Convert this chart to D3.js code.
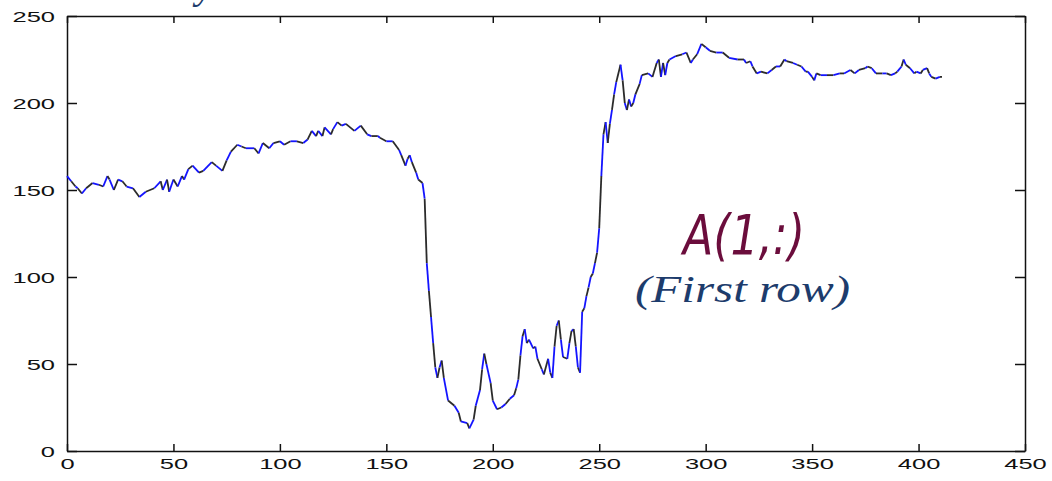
<!DOCTYPE html>
<html>
<head>
<meta charset="utf-8">
<script src="https://cdn.jsdelivr.net/npm/d3@7"></script>
<style>
  html, body { margin: 0; padding: 0; background: #fff; overflow: hidden; }
</style>
</head>
<body>
<script>
// column index of each sample (first row of A)
const sampleIndex = [
  0, 2, 4, 5, 7, 9, 12, 15, 17, 19,
  20, 22, 24, 26, 28, 31, 34, 37, 41, 44,
  45, 47, 48, 50, 52, 54, 55, 57, 59, 62,
  64, 68, 70, 73, 75, 77, 80, 82, 84, 88,
  90, 92, 95, 97, 100, 102, 105, 108, 111, 113,
  115, 117, 118, 120, 121, 124, 125, 127, 129, 131,
  135, 138, 141, 143, 146, 147, 150, 153, 156, 157,
  159, 160, 161, 162, 164, 165, 167, 168, 169, 170,
  171, 172, 173, 174, 175, 176, 177, 179, 182, 184,
  185, 188, 189, 191, 192, 194, 195, 196, 197, 199,
  200, 202, 204, 206, 208, 210, 211, 212, 213, 214,
  215, 216, 217, 219, 220, 221, 223, 224, 226, 227,
  228, 229, 230, 231, 232, 233, 235, 236, 237, 238,
  239, 240, 241, 242, 243, 244, 245, 246, 247, 248,
  249, 250, 251, 252, 253, 254, 255, 256, 257, 258,
  260, 261, 262, 263, 264, 265, 266, 267, 269, 270,
  273, 275, 277, 278, 279, 280, 281, 282, 283, 286,
  289, 291, 293, 294, 296, 298, 300, 302, 305, 308,
  311, 315, 318, 319, 321, 322, 324, 326, 329, 331,
  333, 335, 337, 338, 341, 343, 345, 347, 348, 350,
  351, 352, 354, 357, 360, 363, 365, 368, 370, 372,
  375, 376, 378, 380, 383, 385, 387, 389, 390, 392,
  393, 394, 396, 398, 399, 401, 402, 404, 405, 406,
  408, 410, 411
];

// pixel intensity at each of those columns
const rowValues = [
  158, 155, 152, 151, 148, 151, 154, 153, 152, 158,
  156, 150, 156, 155, 152, 151, 146, 149, 151, 155,
  150, 156, 149, 156, 152, 158, 156, 162, 164, 160,
  161, 166, 164, 161, 167, 172, 176, 175, 174, 174,
  171, 177, 174, 177, 178, 176, 178, 178, 177, 179,
  184, 181, 184, 181, 186, 182, 185, 189, 187, 188,
  184, 187, 182, 181, 181, 180, 178, 178, 173, 170,
  164, 168, 170, 166, 160, 156, 154, 145, 108, 92,
  77, 62, 48, 42, 48, 52, 42, 29, 26, 22,
  17, 16, 13, 18, 26, 35, 47, 56, 50, 39,
  29, 24, 25, 27, 30, 32, 36, 41, 55, 66,
  70, 62, 64, 59, 60, 53, 47, 44, 53, 45,
  42, 60, 72, 75, 64, 54, 53, 62, 69, 70,
  60, 48, 45, 80, 82, 89, 94, 100, 102, 108,
  114, 128, 158, 182, 189, 177, 188, 196, 205, 212,
  222, 213, 200, 196, 202, 198, 200, 205, 211, 216,
  217, 215, 223, 225, 215, 223, 216, 223, 225, 227,
  228, 229, 223, 225, 228, 234, 232, 230, 229, 229,
  226, 225, 225, 223, 224, 221, 217, 218, 217, 219,
  221, 221, 225, 224, 223, 222, 221, 218, 218, 215,
  213, 217, 216, 216, 216, 217, 217, 219, 217, 219,
  220, 221, 220, 217, 217, 217, 216, 217, 218, 221,
  225, 222, 220, 217, 218, 217, 219, 220, 217, 215,
  214, 215, 215
];

const xTicks = [0, 50, 100, 150, 200, 250, 300, 350, 400, 450];
const yTicks = [0, 50, 100, 150, 200, 250];

const width = 1052, height = 481;
const margin = { left: 67, right: 1025, top: 16, bottom: 451 };
const stretch = 1.7;   // tick labels in the picture are stretched sideways

const x = d3.scaleLinear().domain([0, 450]).range([margin.left, margin.right]);
const y = d3.scaleLinear().domain([0, 250]).range([margin.bottom, margin.top]);

const svg = d3.select('body').append('svg')
  .attr('width', width)
  .attr('height', height)
  .style('font-family', '"Liberation Sans", Arial, sans-serif');

// ----- axes (MATLAB style: box, ticks pointing in) -----
const gx = svg.append('g')
  .attr('transform', `translate(0,${margin.bottom})`)
  .call(d3.axisBottom(x).tickValues(xTicks).tickSizeInner(-7).tickSizeOuter(0));
gx.selectAll('text')
  .attr('y', 18).attr('dy', 0)
  .attr('transform', `scale(${stretch},1)`)
  .style('font-size', '15px').attr('fill', '#111');

const gy = svg.append('g')
  .attr('transform', `translate(${margin.left},0)`)
  .call(d3.axisLeft(y).tickValues(yTicks).tickSizeInner(-10).tickSizeOuter(0));
gy.selectAll('text')
  .attr('x', -12 / stretch).attr('dy', '0.36em')
  .attr('transform', `scale(${stretch},1)`)
  .style('font-size', '15px').attr('fill', '#111');

svg.append('g')
  .attr('transform', `translate(0,${margin.top})`)
  .call(d3.axisTop(x).tickValues(xTicks).tickSizeInner(-7).tickSizeOuter(0).tickFormat(''));
svg.append('g')
  .attr('transform', `translate(${margin.right},0)`)
  .call(d3.axisRight(y).tickValues(yTicks).tickSizeInner(-10).tickSizeOuter(0).tickFormat(''));

svg.selectAll('.domain, .tick line').attr('stroke', '#111').attr('stroke-width', 1.5);

// ----- the row profile, blue with dark bits like the screenshot -----
const pts = sampleIndex.map((d, i) => [d, rowValues[i]]);
const line = d3.line().x(d => x(d[0])).y(d => y(d[1]));
const segs = d3.pairs(pts);

svg.append('g')
  .attr('fill', 'none')
  .attr('stroke-width', 1.8)
  .attr('stroke-linejoin', 'round')
  .selectAll('path')
  .data(segs)
  .join('path')
    .attr('stroke', (d, i) => i % 2 ? '#2b2b2b' : '#1414ff')
    .attr('d', d => line(d));

// ----- labels -----
svg.append('text')
  .attr('x', 683).attr('y', 254)
  .attr('textLength', 122).attr('lengthAdjust', 'spacingAndGlyphs')
  .style('font-family', '"DejaVu Sans", "Liberation Sans", sans-serif')
  .style('font-style', 'italic')
  .style('font-size', '56px')
  .attr('fill', '#6b0d3c')
  .text('A(1,:)');

svg.append('text')
  .attr('x', 635).attr('y', 302)
  .attr('textLength', 215).attr('lengthAdjust', 'spacingAndGlyphs')
  .style('font-family', '"Liberation Serif", "Times New Roman", serif')
  .style('font-style', 'italic')
  .style('font-size', '38px')
  .attr('fill', '#1d3c6c')
  .text('(First row)');

// bit of a title cut off above the picture
svg.append('text')
  .attr('x', 196).attr('y', -2)
  .style('font-family', '"Liberation Serif", serif')
  .style('font-style', 'italic')
  .style('font-size', '40px')
  .attr('fill', '#1d3c6c')
  .text('y');
</script>
</body>
</html>
